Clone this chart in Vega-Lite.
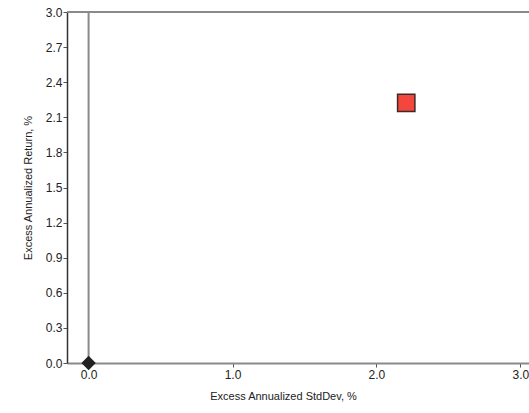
{
  "$schema": "https://vega.github.io/schema/vega-lite/v6.json",
  "autosize": "none",
  "width": 462,
  "height": 351,
  "padding": {"left": 67, "top": 12, "right": 0, "bottom": 50},
  "background": "white",
  "config": {
    "view": {"stroke": null},
    "font": "Liberation Sans",
    "axis": {"labelFont": "Liberation Sans", "titleFont": "Liberation Sans", "labelFontSize": 12, "titleFontSize": 11, "titleFontWeight": "normal", "labelColor": "#222", "titleColor": "#222", "grid": false, "tickSize": 4, "tickColor": "#555", "labelOverlap": false, "labelFlush": false}
  },
  "datasets": {
    "pts": [
      {"name": "Benchmark", "sd": 0.0, "ret": 0.0},
      {"name": "Portfolio", "sd": 2.207, "ret": 2.224}
    ],
    "top": [{"y": 3.0}],
    "vline": [{"x": 0.0}]
  },
  "layer": [
    {
      "data": {"name": "pts"},
      "mark": {"type": "point", "filled": true, "opacity": 0, "size": 1},
      "encoding": {
        "x": {"field": "sd", "type": "quantitative", "scale": {"domain": [-0.15, 3.06], "nice": false, "zero": false},
              "axis": {"values": [0, 1, 2, 3], "format": ".1f", "title": "Excess Annualized StdDev, %", "domainColor": "#8a8a8a", "domainWidth": 2, "titleX": 216, "titlePadding": 10, "labelPadding": 2}},
        "y": {"field": "ret", "type": "quantitative", "scale": {"domain": [0, 3.0], "nice": false},
              "axis": {"values": [0, 0.3, 0.6, 0.9, 1.2, 1.5, 1.8, 2.1, 2.4, 2.7, 3.0], "tickCount": 11, "format": ".1f", "title": "Excess Annualized Return, %", "domainColor": "#333", "domainWidth": 1.5, "titlePadding": 12, "labelPadding": 1}}
      }
    },
    {
      "data": {"name": "vline"},
      "mark": {"type": "rule", "color": "#8a8a8a", "strokeWidth": 2},
      "encoding": {"x": {"field": "x", "type": "quantitative"}}
    },
    {
      "data": {"name": "top"},
      "mark": {"type": "rule", "color": "#8a8a8a", "strokeWidth": 2},
      "encoding": {"y": {"field": "y", "type": "quantitative"}}
    },
    {
      "data": {"name": "pts"},
      "mark": {"type": "point", "filled": true, "opacity": 1, "strokeWidth": 1.5},
      "encoding": {
        "x": {"field": "sd", "type": "quantitative"},
        "y": {"field": "ret", "type": "quantitative"},
        "shape": {"field": "name", "type": "nominal", "scale": {"domain": ["Benchmark", "Portfolio"], "range": ["diamond", "square"]}, "legend": null},
        "fill": {"field": "name", "type": "nominal", "scale": {"domain": ["Benchmark", "Portfolio"], "range": ["#222222", "#f4463c"]}, "legend": null},
        "stroke": {"field": "name", "type": "nominal", "scale": {"domain": ["Benchmark", "Portfolio"], "range": ["#222222", "#3a2a28"]}, "legend": null},
        "size": {"field": "name", "type": "nominal", "scale": {"domain": ["Benchmark", "Portfolio"], "range": [150, 300]}, "legend": null}
      }
    }
  ]
}
